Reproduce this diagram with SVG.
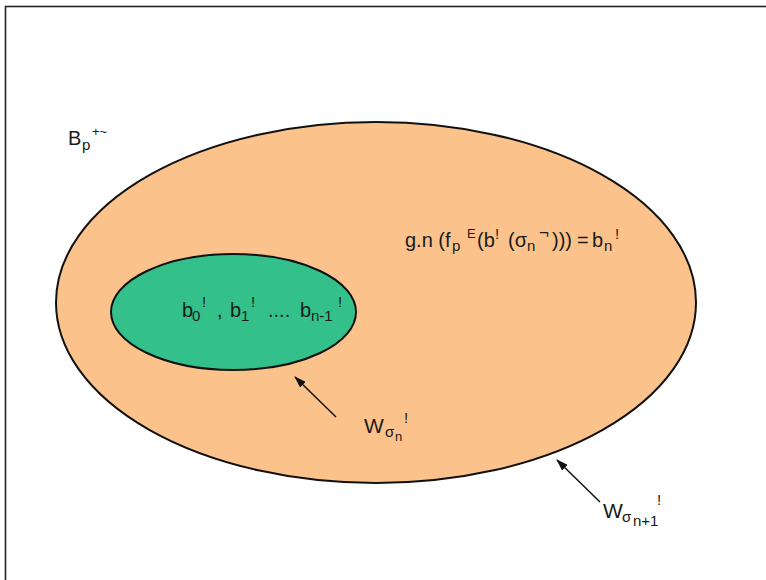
<svg xmlns="http://www.w3.org/2000/svg" width="766" height="580" viewBox="0 0 766 580">
<defs>
<style>
.t{font-family:"Liberation Sans",Arial,sans-serif;fill:#1a1a1a;font-size:20px}
.s{font-size:15px}
.ss{font-size:13px}
.el{stroke:#111;stroke-width:2}
.ar{stroke:#111;stroke-width:1.5;fill:none}
</style>
<marker id="ah" viewBox="0 0 12 8" refX="11" refY="4" markerWidth="12" markerHeight="8" markerUnits="userSpaceOnUse" orient="auto">
<path d="M0,0 L12,4 L0,8 Z" fill="#111"/>
</marker>
</defs>
<rect width="766" height="580" fill="#fff"/>
<rect x="5.5" y="6.5" width="800" height="620" fill="none" stroke="#222" stroke-width="1.6"/>
<g id="outer">
<ellipse class="el" cx="376" cy="302.5" rx="320" ry="180.5" fill="#FBC38B"/>
<text class="t" x="405" y="247">g.n (f<tspan class="s" x="452" y="251">p</tspan><tspan class="ss" x="467" y="238">E</tspan><tspan x="477" y="247">(b</tspan><tspan class="s" x="495" y="239">!</tspan><tspan x="508" y="247">(σ</tspan><tspan class="s" x="527" y="251">n</tspan><tspan style="font-size:17px" x="539" y="238">¬</tspan><tspan x="552" y="247">)))</tspan><tspan x="577" y="247">=</tspan><tspan x="592" y="247">b</tspan><tspan class="s" x="604" y="251">n</tspan><tspan class="s" x="615" y="239">!</tspan></text>
</g>
<g id="inner">
<ellipse class="el" cx="233.5" cy="312" rx="122.5" ry="58" fill="#33C08A"/>
<text class="t" x="182" y="317">b<tspan class="s" x="192" y="321">0</tspan><tspan class="s" x="202" y="307">!</tspan><tspan x="217" y="317">,</tspan><tspan x="230" y="317">b</tspan><tspan class="s" x="241" y="321">1</tspan><tspan class="s" x="251" y="307">!</tspan><tspan x="268" y="317">....</tspan><tspan x="300" y="317">b</tspan><tspan class="s" x="311" y="321">n-1</tspan><tspan class="s" x="338" y="307">!</tspan></text>
</g>
<g id="label-B">
<text class="t" x="68" y="145">B<tspan class="s" x="82" y="150">p</tspan><tspan class="ss" x="92" y="136">+~</tspan></text>
</g>
<g id="label-Wn">
<text class="t" x="364" y="433" style="font-size:21px">W<tspan class="s" x="385" y="437">σ</tspan><tspan class="ss" x="395" y="441">n</tspan><tspan class="s" x="404" y="423">!</tspan></text>
</g>
<g id="label-Wn1">
<text class="t" x="603" y="518" style="font-size:21px">W<tspan class="s" x="622" y="522">σ</tspan><tspan class="s" x="633" y="526">n+1</tspan><tspan class="s" x="657" y="505">!</tspan></text>
</g>
<g id="connectors">
<line class="ar" x1="336" y1="417" x2="295" y2="377" marker-end="url(#ah)"/>
<line class="ar" x1="600" y1="502" x2="557" y2="460" marker-end="url(#ah)"/>
</g>
</svg>
